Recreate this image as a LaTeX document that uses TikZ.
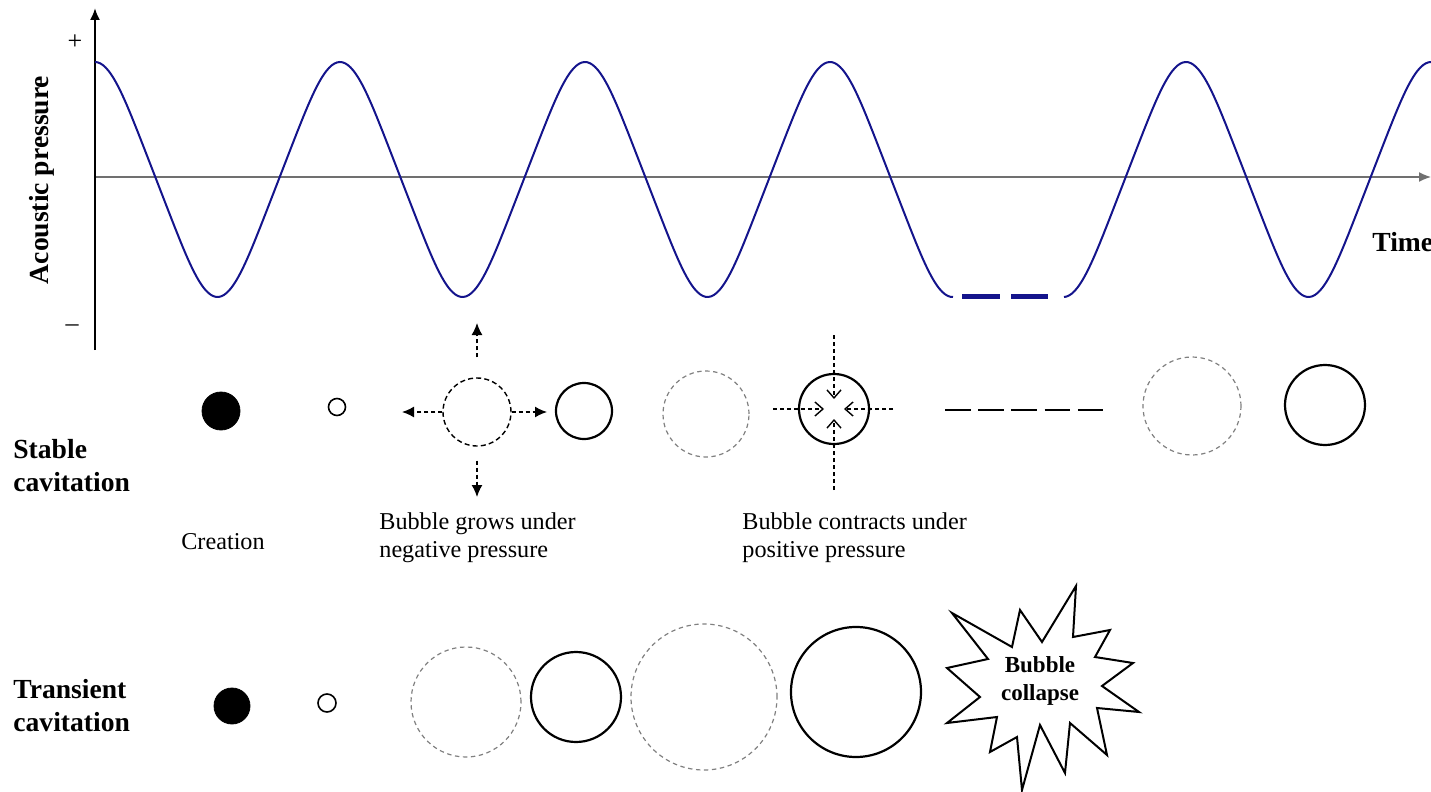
\documentclass[tikz,border=0pt]{standalone}
\usepackage{fontspec}
\setmainfont{Liberation Serif}
\usepackage{tikz}
\usetikzlibrary{arrows.meta,positioning}
\definecolor{wavenavy}{HTML}{14148C}
\definecolor{axisgray}{HTML}{707070}
\definecolor{ghostgray}{HTML}{808080}
\tikzset{
  core/.style={circle,fill=black,draw=black,inner sep=0pt},
  seed/.style={circle,draw=black,line width=0.8pt,inner sep=0pt},
  bubble/.style={circle,draw=black,line width=1.1pt,inner sep=0pt},
  ghost/.style={circle,draw=ghostgray,line width=0.6pt,
                dash pattern=on 2.2pt off 1.8pt,inner sep=0pt},
  growarr/.style={-{Latex[length=6pt,width=5.5pt]},line width=0.7pt,
                  dash pattern=on 2pt off 1.5pt},
  pusharr/.style={-{Straight Barb[length=4pt,width=7pt]},line width=0.7pt,
                  dash pattern=on 2pt off 1.5pt},
  rowlabel/.style={font=\bfseries\fontsize{13.8}{16.5}\selectfont,
                   align=left,anchor=west,inner sep=0pt},
  note/.style={font=\fontsize{12.1}{14}\selectfont,align=left,inner sep=0pt}
}
\begin{document}
\begin{tikzpicture}[x=0.5pt,y=-0.5pt]
  \useasboundingbox (0,0) rectangle (1431,792);
  % axes
  \coordinate (origin) at (95,177);
  \coordinate (ytop) at (95,8);
  \coordinate (ybot) at (95,350);
  \coordinate (xend) at (1431,177);
  \draw[axisgray,line width=0.7pt,-{Latex[length=6pt,width=5pt]}] (origin) -- (xend);
  \draw[black,line width=1pt,-{Latex[length=6pt,width=5pt]}] (ybot) -- (ytop);
  \node[font=\fontsize{13}{15}\selectfont] (plus) at (75,42) {+};
  \node[font=\fontsize{13}{15}\selectfont] (minus) at (72,328) {--};
  \node[font=\bfseries\fontsize{13.8}{16.5}\selectfont,rotate=90] (ylab) at (42,180) {Acoustic pressure};
  \node[font=\bfseries\fontsize{13.8}{16.5}\selectfont,anchor=west,inner sep=0pt] (xlab) at (1372,242) {Time};
  % pressure wave
  \draw[wavenavy,line width=1pt] plot[domain=95:953,samples=320,smooth]
    (\x,{179.5-117.5*(cos((\x-95)*1.469388)+cos((\x-95)*4.408163)/27)/1.037});
  \draw[wavenavy,line width=1pt] plot[domain=1064:1431,samples=140,smooth]
    (\x,{179.5-117.5*(cos((\x-1186)*1.469388)+cos((\x-1186)*4.408163)/27)/1.037});
  \draw[wavenavy,line width=2.5pt,dash pattern=on 19pt off 5.5pt] (962,296) -- (1048,296);

  % stable cavitation
  \node[rowlabel] (stable) at (13,466) {Stable\\cavitation};
  \node[core,minimum size=19pt] (core1) at (221,411) {};
  \node[seed,minimum size=8.5pt] (seed1) at (337,407) {};
  \node[circle,draw=black,line width=0.7pt,dash pattern=on 2.5pt off 1.6pt,
        inner sep=0pt,minimum size=34pt] (grow) at (477,412) {};
  \coordinate (upTip) at (477,323);
  \coordinate (downTip) at (477,497);
  \coordinate (leftTip) at (402,412);
  \coordinate (rightTip) at (547,412);
  \draw[growarr,shorten <=10pt] (grow.north) -- (upTip);
  \draw[growarr,shorten <=7pt] (grow.south) -- (downTip);
  \draw[growarr] (grow.west) -- (leftTip);
  \draw[growarr] (grow.east) -- (rightTip);
  \node[bubble,minimum size=28pt] (expand1) at (584,411) {};
  \node[ghost,minimum size=43pt] (ghost1) at (706,414) {};
  \node[bubble,minimum size=35pt] (shrink) at (834,409) {};
  \coordinate (inL) at (773,409);
  \coordinate (inR) at (893,409);
  \coordinate (inT) at (834,335);
  \coordinate (inB) at (834,490);
  \draw[pusharr] (inL) -- ([xshift=-5pt]shrink.center);
  \draw[pusharr] (inR) -- ([xshift=5pt]shrink.center);
  \draw[pusharr] (inT) -- ([yshift=5pt]shrink.center);
  \draw[pusharr] (inB) -- ([yshift=-5pt]shrink.center);
  \draw[line width=0.9pt,dash pattern=on 12.9pt off 3.7pt] (945,410) -- (1103,410);
  \node[ghost,minimum size=49pt] (ghost2) at (1192,406) {};
  \node[bubble,minimum size=40pt] (expand2) at (1325,405) {};
  \node[note] (create) at (223,542) {Creation};
  \node[note,anchor=west] (grownote) at (379,538) {Bubble grows under\\negative pressure};
  \node[note,anchor=west] (shrinknote) at (742,538) {Bubble contracts under\\positive pressure};

  % transient cavitation
  \node[rowlabel] (transient) at (13,706) {Transient\\cavitation};
  \node[core,minimum size=18pt] (core2) at (232,706) {};
  \node[seed,minimum size=9pt] (seed2) at (327,703) {};
  \node[ghost,minimum size=55pt] (ghost3) at (466,702) {};
  \node[bubble,minimum size=45pt] (expand3) at (576,697) {};
  \node[ghost,minimum size=73pt] (ghost4) at (704,697) {};
  \node[bubble,minimum size=65pt] (expand4) at (856,692) {};
  \draw[line width=1pt,miter limit=20] (952,613) -- (1012,647) -- (1020,610) -- (1042,642)
    -- (1076,586) -- (1073,637) -- (1110,630) -- (1095,657) -- (1133,663)
    -- (1102,686) -- (1139,712) -- (1097,708) -- (1107,755) -- (1070,723)
    -- (1065,773) -- (1040,725) -- (1022,790) -- (1017,737) -- (990,752)
    -- (997,717) -- (947,723) -- (980,697) -- (947,668) -- (988,659) -- cycle;
  \node[font=\bfseries\fontsize{11.5}{14}\selectfont,align=center,inner sep=0pt]
    (collapse) at (1040,681) {Bubble\\collapse};
\end{tikzpicture}
\end{document}
